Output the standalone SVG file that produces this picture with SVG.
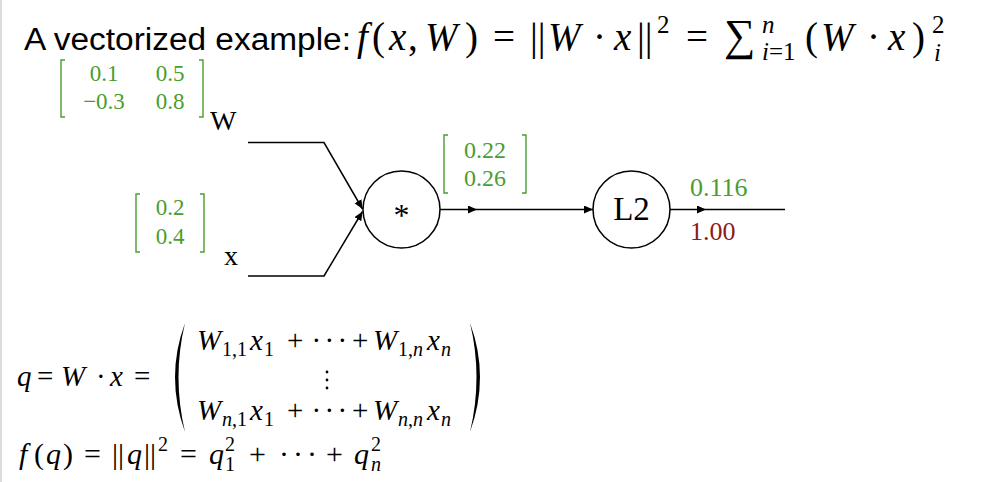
<svg xmlns="http://www.w3.org/2000/svg" width="989" height="482" viewBox="0 0 989 482">
<style>
.sans{font-family:"Liberation Sans",Arial,sans-serif;fill:#000}
.m{font-family:"Liberation Serif","DejaVu Serif",serif;fill:#000}
.i{font-style:italic}
.s{font-size:25px}
.b{font-size:20px}
.g{fill:#4a9d2f}
.r{fill:#8b1c1c}
.br{fill:none;stroke:#4a9d2f;stroke-width:1.4}
.node{fill:#fff;stroke:#000;stroke-width:1.5}
.edge{fill:none;stroke:#000;stroke-width:1.5}
</style>
<defs>
<marker id="ah" markerUnits="userSpaceOnUse" markerWidth="12" markerHeight="10" refX="9" refY="4" orient="auto">
<path d="M0,0 L9,4 L0,8 Z" fill="#000"/>
</marker>
</defs>
<rect width="989" height="482" fill="#fff"/>
<line x1="1" y1="0" x2="1" y2="482" stroke="#dcdcdc" stroke-width="2"/>

<g id="title">
<text x="24" y="50" class="sans" font-size="31" textLength="327" lengthAdjust="spacingAndGlyphs">A vectorized example:</text>
<text y="50" class="m" font-size="39"><tspan class="i" x="357">f</tspan><tspan x="372">(</tspan><tspan class="i" x="389">x</tspan><tspan x="408">,</tspan><tspan class="i" x="425">W</tspan><tspan x="465">)</tspan><tspan x="493">=</tspan><tspan x="530">||</tspan><tspan class="i" x="548">W</tspan><tspan x="593">·</tspan><tspan class="i" x="614">x</tspan><tspan x="637">||</tspan><tspan class="s" x="657" y="33">2</tspan><tspan x="686" y="50">=</tspan><tspan font-size="44" x="724">∑</tspan><tspan class="s i" x="762" y="33">n</tspan><tspan class="s" x="762" y="60"><tspan class="i">i</tspan>=1</tspan><tspan x="805" y="50">(</tspan><tspan class="i" x="821">W</tspan><tspan x="867">·</tspan><tspan class="i" x="888">x</tspan><tspan x="912">)</tspan><tspan class="s" x="932" y="33">2</tspan><tspan class="s i" x="934" y="61">i</tspan></text>
</g>

<g id="matrix-W">
<path class="br" d="M65,60 H61 V117 H65 M199,60 H203 V117 H199"/>
<text class="m g" font-size="23" text-anchor="middle"><tspan x="104" y="81">0.1</tspan><tspan x="170" y="81">0.5</tspan><tspan x="104" y="109">−0.3</tspan><tspan x="170" y="109">0.8</tspan></text>
<text x="210" y="130" class="m" font-size="28">W</text>
</g>

<g id="matrix-x">
<path class="br" d="M140,194 H136 V252 H140 M200,194 H204 V252 H200"/>
<text class="m g" font-size="23" text-anchor="middle"><tspan x="170" y="215">0.2</tspan><tspan x="170" y="244">0.4</tspan></text>
<text x="224" y="265" class="m" font-size="28">x</text>
</g>

<g id="matrix-q">
<path class="br" d="M448,135 H444 V193 H448 M522,135 H526 V193 H522"/>
<text class="m g" font-size="24" text-anchor="middle"><tspan x="485" y="158">0.22</tspan><tspan x="485" y="186">0.26</tspan></text>
</g>

<g id="connectors">
<path class="edge" d="M248,142.5 L324,142.5 L362.5,209" marker-end="url(#ah)"/>
<path class="edge" d="M248,276 L324,276 L362.5,211.5" marker-end="url(#ah)"/>
<path class="edge" d="M440,209.5 L477,209.5 L593,209.5" marker-mid="url(#ah)" marker-end="url(#ah)"/>
<path class="edge" d="M670,209.5 L706,209.5 L785,209.5" marker-mid="url(#ah)"/>
</g>

<g id="node-mul">
<circle class="node" cx="401.5" cy="209.5" r="38.5"/>
<text x="401.5" y="226" class="m" font-size="32" text-anchor="middle">*</text>
</g>

<g id="node-L2">
<circle class="node" cx="631.5" cy="209.5" r="38.5"/>
<text x="631.5" y="220" class="m" font-size="33" text-anchor="middle">L2</text>
</g>

<g id="out-labels">
<text x="690" y="196" class="m g" font-size="26">0.116</text>
<text x="690" y="240" class="m r" font-size="26">1.00</text>
</g>

<g id="formula-q">
<text y="386" class="m" font-size="29"><tspan class="i" x="17">q</tspan><tspan x="37">=</tspan><tspan class="i" x="61">W</tspan><tspan x="96">·</tspan><tspan class="i" x="110">x</tspan><tspan x="134">=</tspan></text>
<path d="M185,323 Q165,377 185,432 Q172,377 185,323 Z" fill="#000"/>
<path d="M470,323 Q490,377 470,432 Q483,377 470,323 Z" fill="#000"/>
<text y="350" class="m" font-size="29"><tspan class="i" x="197">W</tspan><tspan class="b" x="222" y="356">1,1</tspan><tspan class="i" x="250" y="350">x</tspan><tspan class="b" x="264" y="356">1</tspan><tspan x="287" y="350">+</tspan><tspan x="311.5">·</tspan><tspan x="324.5">·</tspan><tspan x="337.5">·</tspan><tspan x="352">+</tspan><tspan class="i" x="373">W</tspan><tspan class="b" x="398" y="356">1,<tspan class="i">n</tspan></tspan><tspan class="i" x="427" y="350">x</tspan><tspan class="b i" x="441" y="356">n</tspan></text>
<circle cx="327" cy="372" r="1.4"/>
<circle cx="327" cy="380" r="1.4"/>
<circle cx="327" cy="388" r="1.4"/>
<text y="420" class="m" font-size="29"><tspan class="i" x="197">W</tspan><tspan class="b" x="222" y="426"><tspan class="i">n</tspan>,1</tspan><tspan class="i" x="250" y="420">x</tspan><tspan class="b" x="264" y="426">1</tspan><tspan x="287" y="420">+</tspan><tspan x="311.5">·</tspan><tspan x="324.5">·</tspan><tspan x="337.5">·</tspan><tspan x="352">+</tspan><tspan class="i" x="373">W</tspan><tspan class="b" x="398" y="426"><tspan class="i">n</tspan>,<tspan class="i">n</tspan></tspan><tspan class="i" x="427" y="420">x</tspan><tspan class="b i" x="441" y="426">n</tspan></text>
</g>

<g id="formula-f">
<text y="464" class="m" font-size="30"><tspan class="i" x="19">f</tspan><tspan x="34">(</tspan><tspan class="i" x="46">q</tspan><tspan x="63">)</tspan><tspan x="84">=</tspan><tspan x="112">||</tspan><tspan class="i" x="127">q</tspan><tspan x="144">||</tspan><tspan class="b" x="158" y="451">2</tspan><tspan x="180" y="464">=</tspan><tspan class="i" x="209">q</tspan><tspan class="b" x="225" y="451">2</tspan><tspan class="b" x="225" y="471">1</tspan><tspan x="249" y="464">+</tspan><tspan x="279">·</tspan><tspan x="293">·</tspan><tspan x="307">·</tspan><tspan x="326">+</tspan><tspan class="i" x="354">q</tspan><tspan class="b" x="371" y="451">2</tspan><tspan class="b i" x="371" y="471">n</tspan></text>
</g>
</svg>
